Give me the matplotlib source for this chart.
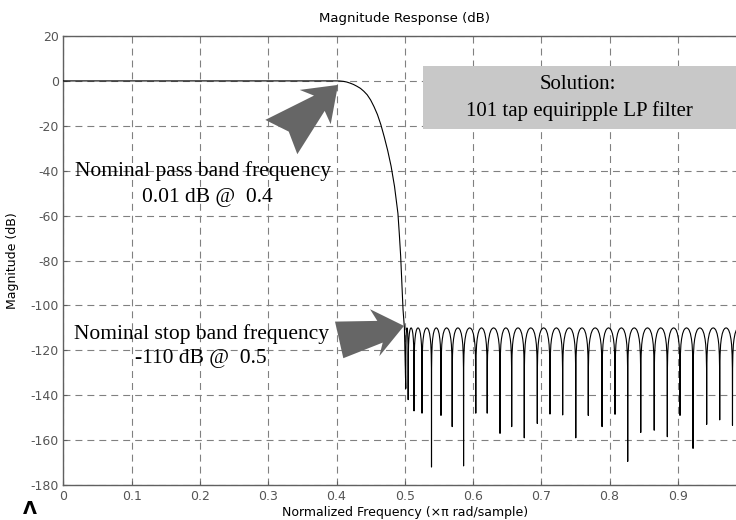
import numpy as np
import matplotlib.pyplot as plt
from matplotlib.patches import Rectangle, Polygon

plt.rcParams['axes.unicode_minus'] = False
plt.rcParams['lines.scale_dashes'] = False

# pass band / transition points (freq x pi, dB)
pb_freq = [0.0, 0.40, 0.405, 0.41, 0.415, 0.42, 0.425, 0.43, 0.435, 0.44, 0.445, 0.45, 0.455,
           0.46, 0.465, 0.47, 0.475, 0.48, 0.485, 0.49, 0.492, 0.494, 0.496, 0.4975, 0.4995]
pb_db = [0.0, 0.0, -0.05, -0.2, -0.5, -1.0, -1.6, -2.4, -3.3, -4.6, -6.2, -8.5, -11.5,
         -15.0, -19.5, -25.0, -31.0, -38.0, -47.0, -59.0, -68.0, -78.0, -92.0, -102.0, -110.0]

# stop band nulls
null_freq = [0.5015, 0.5050, 0.5136, 0.5253, 0.5392, 0.5531, 0.5695, 0.5862, 0.6041, 0.6208,
             0.6396, 0.6567, 0.6751, 0.6942, 0.7128, 0.7314, 0.7506, 0.7689, 0.7891, 0.8081,
             0.8267, 0.8458, 0.8655, 0.8847, 0.9033, 0.9224, 0.9424, 0.9615, 0.9802]
null_db = [-137, -142, -147, -148, -172, -149, -154, -171.5, -148, -148,
           -157, -154, -159, -152.6, -148.4, -148.8, -159, -149, -154, -148.5,
           -169.5, -156.6, -155.6, -158.5, -149, -163.7, -153, -151, -153.4]
ripple_db = -110.0

# shape of one stop band lobe between two nulls (fraction of spacing, dB below ripple peak)
lobe_frac = [0.01, 0.03, 0.07, 0.12, 0.2, 0.3, 0.4, 0.5, 0.6, 0.7, 0.8, 0.88, 0.93, 0.97, 0.99]
lobe_rel = [-18, -12, -7.5, -5, -2.6, -1, -0.25, 0, -0.25, -1, -2.6, -5, -7.5, -12, -18]

# annotation arrow outlines (freq, dB)
arrow1_f = [0.4022, 0.3461, 0.3670, 0.2957, 0.3300, 0.3426, 0.3827, 0.3915]
arrow1_db = [-1.78, -4.01, -6.55, -17.37, -22.58, -32.65, -13.36, -19.29]
arrow2_f = [0.4989, 0.4491, 0.4598, 0.3978, 0.4100, 0.4677, 0.4627]
arrow2_db = [-109.13, -101.69, -106.90, -107.22, -123.52, -116.57, -122.63]

xticks = [0, 0.1, 0.2, 0.3, 0.4, 0.5, 0.6, 0.7, 0.8, 0.9]
yticks = [20, 0, -20, -40, -60, -80, -100, -120, -140, -160, -180]

# build the response line
f = list(pb_freq)
h = list(pb_db)
for i in range(len(null_freq)):
    f.append(null_freq[i])
    h.append(null_db[i])
    if i + 1 < len(null_freq):
        step = null_freq[i + 1] - null_freq[i]
        fracs = lobe_frac
    else:
        step = null_freq[i] - null_freq[i - 1]
        fracs = lobe_frac[:8]
    for fr, d in zip(fracs, lobe_rel):
        f.append(null_freq[i] + fr * step)
        h.append(ripple_db + d)

fig = plt.figure(figsize=(7.36, 5.2), dpi=100)
ax = fig.add_axes([63.5 / 736, 1 - 485 / 520, 682.5 / 736, 449 / 520])

ax.plot(f, h, color='black', lw=0.8, zorder=3)

ax.set_xlim(0, 1)
ax.set_ylim(-180, 20)
ax.set_xticks(xticks)
ax.set_xticklabels([('%g' % t) for t in xticks])
ax.set_yticks(yticks)
ax.grid(True, color='#808080', lw=0.8, linestyle=(0, (5, 3.6)))
ax.tick_params(direction='in', length=3, colors='#606060', labelsize=9, labelcolor='#555555')
for s in ax.spines.values():
    s.set_color('#606060')
    s.set_linewidth(1.0)

ax.set_title('Magnitude Response (dB)', fontsize=9.5, pad=10)
ax.set_xlabel('Normalized Frequency (\u00d7\u03c0 rad/sample)', fontsize=9, labelpad=2)
ax.set_ylabel('Magnitude (dB)', fontsize=9, labelpad=8)

# gray solution box
ax.add_patch(Rectangle((0.5263, -21.5), 0.48, 28.2, facecolor='#c8c8c8', edgecolor='none', zorder=4))
ax.text(0.7539, -1.8, 'Solution:', family='Liberation Serif', fontsize=15, ha='center', va='center', zorder=5)
ax.text(0.7553, -13.4, '101 tap equiripple LP filter', family='Liberation Serif', fontsize=15,
        ha='center', va='center', zorder=5)

# arrows
ax.add_patch(Polygon(list(zip(arrow1_f, arrow1_db)), closed=True, facecolor='#666666', edgecolor='none', zorder=4))
ax.add_patch(Polygon(list(zip(arrow2_f, arrow2_db)), closed=True, facecolor='#666666', edgecolor='none', zorder=4))

# annotation texts
ax.text(0.2037, -40.1, 'Nominal pass band frequency', family='Liberation Serif', fontsize=15.5,
        ha='center', va='center', zorder=5)
ax.text(0.2103, -52.1, '0.01 dB @  0.4', family='Liberation Serif', fontsize=15.5,
        ha='center', va='center', zorder=5)
ax.text(0.2022, -112.7, 'Nominal stop band frequency', family='Liberation Serif', fontsize=15.5,
        ha='center', va='center', zorder=5)
ax.text(0.2015, -123.8, '-110 dB @  0.5', family='Liberation Serif', fontsize=15.5,
        ha='center', va='center', zorder=5)

fig.text(30 / 736, 1 - 509 / 520, '\u039b', fontsize=13, fontweight='bold', ha='center', va='center')

fig.savefig('out.png', dpi=100)
